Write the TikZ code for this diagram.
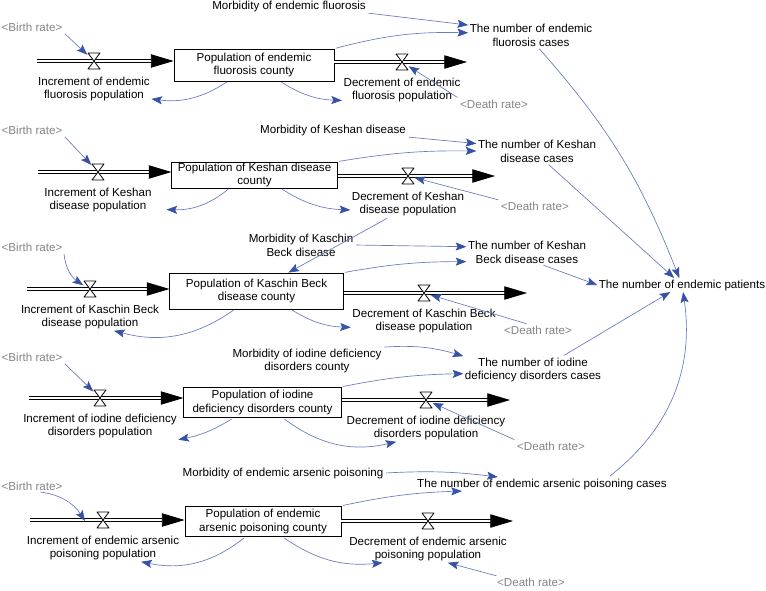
\documentclass[tikz,border=0pt]{standalone}
\usepackage{fontspec}
\setmainfont{Liberation Sans}
\usepackage{tikz}
\usetikzlibrary{positioning, arrows.meta}
\definecolor{link-blue}{RGB}{54,82,166}
\definecolor{link-line}{RGB}{104,122,192}
\definecolor{shadow-grey}{RGB}{132,132,132}

\begin{document}
\begin{tikzpicture}[x=0.75pt, y=-0.75pt,
	every node/.style={font=\fontsize{8.7}{10.3}\selectfont, align=center, inner sep=1pt},
	stock/.style={draw, line width=0.6pt, inner xsep=2pt, inner ysep=0.5pt},
	valve/.style={minimum width=9.6pt, minimum height=12.6pt, inner sep=0pt,
		path picture={\filldraw[fill=white, line width=0.6pt, line join=round]
			([shift={(0.3pt,-0.3pt)}]path picture bounding box.north west) --
			([shift={(-0.3pt,-0.3pt)}]path picture bounding box.north east) --
			([shift={(0.3pt,0.3pt)}]path picture bounding box.south west) --
			([shift={(-0.3pt,0.3pt)}]path picture bounding box.south east) -- cycle;}},
	shadow/.style={text=shadow-grey},
	pipe/.style={draw, double, double distance=2pt, line width=0.6pt, -{Triangle[length=17pt, width=10pt]}},
	link/.style={draw=link-line, line width=0.5pt, shorten <=1pt, -{Stealth[length=8pt, width=6pt, inset=1.5pt, color=link-blue]}}]
	\useasboundingbox (0,0) rectangle (766,590);

	% endemic fluorosis
	\node[stock, minimum width=120pt, minimum height=24pt] (stock1) at (254,65) {Population of endemic\\fluorosis county};
	\coordinate (src1) at (37,61);
	\coordinate (sink1) at (467,62);
	\draw[pipe] (src1) -- (src1 -| stock1.west);
	\draw[pipe] (stock1.east |- sink1) -- (sink1);
	\node[valve] (vi1) at (94,61) {};
	\node[valve] (vd1) at (402,62) {};
	\node[below=4pt of vi1] (inc1) {Increment of endemic\\fluorosis population};
	\node[below=4pt of vd1] (dec1) {Decrement of endemic\\fluorosis population};
	\node[shadow] (birth1) at (32,27) {<Birth rate>};
	\node[shadow] (death1) at (494,104) {<Death rate>};
	\node (morb1) at (289,6) {Morbidity of endemic fluorosis};
	\node (cases1) at (531,35) {The number of endemic\\fluorosis cases};
	\draw
	(birth1.south east) edge[link] (vi1)
	(death1.north west) edge[link] (vd1)
	(morb1.south east) edge[link] (cases1.171)
	(stock1.north east) edge[link, bend left=8] (cases1.178)
	(stock1.212) edge[link, bend left=20] (inc1.-10)
	(stock1.-32) edge[link, bend right=15] (dec1.190);

	% Keshan disease
	\node[stock, minimum width=124pt, minimum height=19.5pt] (stock2) at (254.5,175) {Population of Keshan disease\\county};
	\coordinate (src2) at (38,172);
	\coordinate (sink2) at (495,176);
	\draw[pipe] (src2) -- (src2 -| stock2.west);
	\draw[pipe] (stock2.east |- sink2) -- (sink2);
	\node[valve] (vi2) at (98,172) {};
	\node[valve] (vd2) at (408,176) {};
	\node[below=4pt of vi2] (inc2) {Increment of Keshan\\disease population};
	\node[below=4pt of vd2] (dec2) {Decrement of Keshan\\disease population};
	\node[shadow] (birth2) at (32,130) {<Birth rate>};
	\node[shadow] (death2) at (535,206) {<Death rate>};
	\node (morb2) at (333,130) {Morbidity of Keshan disease};
	\node (cases2) at (537,151) {The number of Keshan\\disease cases};
	\draw
	(birth2.south east) edge[link] (vi2)
	(death2.north west) edge[link] (vd2)
	(morb2.south east) edge[link] (cases2.173)
	(stock2.north east) edge[link, bend left=5] (cases2.west)
	(stock2.208) edge[link, bend left=20] ([xshift=10pt]inc2.-10)
	(stock2.-27) edge[link, bend right=15] (dec2.186);

	% Kaschin Beck disease
	\node[stock, minimum width=130pt, minimum height=27pt] (stock3) at (256.5,291) {Population of Kaschin Beck\\disease county};
	\coordinate (src3) at (27,289);
	\coordinate (sink3) at (527,293);
	\draw[pipe] (src3) -- (src3 -| stock3.west);
	\draw[pipe] (stock3.east |- sink3) -- (sink3);
	\node[valve] (vi3) at (90,289) {};
	\node[valve] (vd3) at (424,293) {};
	\node[below=4pt of vi3] (inc3) {Increment of Kaschin Beck\\disease population};
	\node[below=4pt of vd3] (dec3) {Decrement of Kaschin Beck\\disease population};
	\node[shadow] (birth3) at (32,247) {<Birth rate>};
	\node[shadow] (death3) at (538,330) {<Death rate>};
	\node (morb3) at (301,245) {Morbidity of Kaschin\\Beck disease};
	\node (cases3) at (527,252) {The number of Keshan\\Beck disease cases};
	\draw
	(dec2.215) edge[link] (stock3.30)
	(birth3.south east) edge[link, bend right=25] (vi3)
	(death3.150) edge[link] (vd3)
	(morb3.east) edge[link] (cases3.175)
	(stock3.north east) edge[link, bend left=5] (cases3.189)
	(stock3.220) edge[link, bend left=25] (inc3.-30)
	(stock3.-28) edge[link, bend right=15] (dec3.185);

	% iodine deficiency disorders
	\node[stock, minimum width=118pt, minimum height=23pt] (stock4) at (262.5,402.5) {Population of iodine\\deficiency disorders county};
	\coordinate (src4) at (29,398);
	\coordinate (sink4) at (510,400);
	\draw[pipe] (src4) -- (src4 -| stock4.west);
	\draw[pipe] (stock4.east |- sink4) -- (sink4);
	\node[valve] (vi4) at (100,398) {};
	\node[valve] (vd4) at (426,400) {};
	\node[below=4pt of vi4] (inc4) {Increment of iodine deficiency\\disorders population};
	\node[below=4pt of vd4] (dec4) {Decrement of iodine deficiency\\disorders population};
	\node[shadow] (birth4) at (32,357) {<Birth rate>};
	\node[shadow] (death4) at (551,446) {<Death rate>};
	\node (morb4) at (307,361) {Morbidity of iodine deficiency\\disorders county};
	\node (cases4) at (533,370) {The number of iodine\\deficiency disorders cases};
	\draw
	(birth4.south east) edge[link] (vi4)
	(death4.north west) edge[link] (vd4)
	(morb4.north east) edge[link, bend left=10] (cases4.north west)
	(stock4.north east) edge[link, bend left=5] (cases4.183)
	(stock4.208) edge[link, bend left=10] (inc4.-10)
	(stock4.-37) edge[link, bend right=25] (dec4.205);

	% endemic arsenic poisoning
	\node[stock, minimum width=117pt, minimum height=23pt] (stock5) at (263,521.5) {Population of endemic\\arsenic poisoning county};
	\coordinate (src5) at (30,520);
	\coordinate (sink5) at (513,521);
	\coordinate (pin5) at (85,521);
	\draw[pipe] (src5) -- (src5 -| stock5.west);
	\draw[pipe] (stock5.east |- sink5) -- (sink5);
	\node[valve] (vi5) at (103,520) {};
	\node[valve] (vd5) at (428,521) {};
	\node[below=4pt of vi5] (inc5) {Increment of endemic arsenic\\poisoning population};
	\node[below=4pt of vd5] (dec5) {Decrement of endemic arsenic\\poisoning population};
	\node[shadow] (birth5) at (32,486) {<Birth rate>};
	\node[shadow] (death5) at (531,582) {<Death rate>};
	\node (morb5) at (283,473) {Morbidity of endemic arsenic poisoning};
	\node (cases5) at (542,484) {The number of endemic arsenic poisoning cases};
	\draw
	(birth5.-40) edge[link, bend left=25] (pin5)
	(death5.170) edge[link] (dec5.-35)
	(morb5.east) edge[link, bend left=5] (cases5.171)
	(stock5.north east) edge[link, bend left=5] (cases5.185)
	(stock5.221) edge[link, bend left=25] (inc5.-20)
	(stock5.-38) edge[link, bend right=20] (dec5.197);

	% total
	\node (patients) at (682,285) {The number of endemic patients};
	\draw
	(cases1.-60) edge[link, bend left=10] (patients)
	(cases2.-50) edge[link] (patients)
	(cases3.-40) edge[link] (patients.west)
	(cases4.25) edge[link] (patients)
	(cases5.6) edge[link, bend right=30] (patients);
\end{tikzpicture}
\end{document}
